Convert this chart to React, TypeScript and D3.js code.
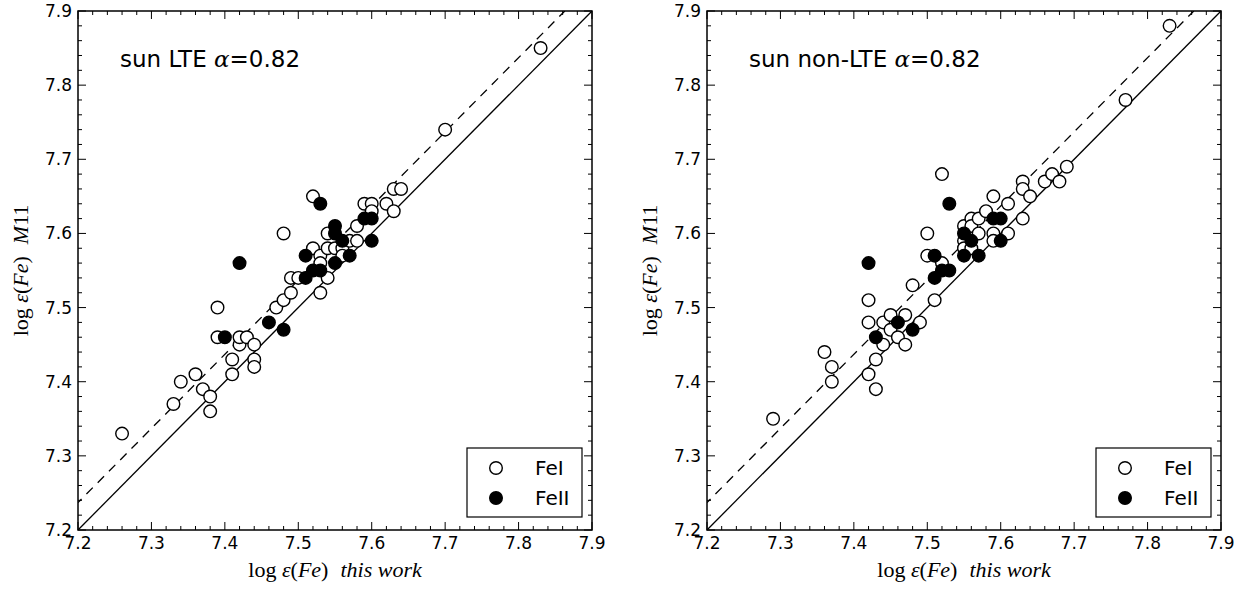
import React from "react";
import * as d3 from "d3";

// Fe abundances: [this work, M11]
const lteFeI = [
  [7.26, 7.33], [7.33, 7.37], [7.34, 7.40], [7.36, 7.41], [7.37, 7.39], [7.38, 7.38], [7.38, 7.36],
  [7.39, 7.50], [7.39, 7.46], [7.41, 7.43], [7.41, 7.41], [7.42, 7.45], [7.42, 7.46], [7.43, 7.46],
  [7.44, 7.45], [7.44, 7.43], [7.44, 7.42], [7.47, 7.50], [7.48, 7.51], [7.49, 7.52], [7.49, 7.54],
  [7.48, 7.60], [7.50, 7.54], [7.52, 7.65], [7.52, 7.58], [7.53, 7.57], [7.53, 7.56], [7.53, 7.52],
  [7.54, 7.54], [7.54, 7.58], [7.54, 7.60], [7.55, 7.58], [7.56, 7.58], [7.56, 7.57], [7.57, 7.59],
  [7.58, 7.59], [7.58, 7.61], [7.59, 7.64], [7.60, 7.64], [7.60, 7.63], [7.62, 7.64], [7.63, 7.63],
  [7.63, 7.66], [7.64, 7.66], [7.70, 7.74], [7.83, 7.85],
];
const lteFeII = [
  [7.40, 7.46], [7.42, 7.56], [7.46, 7.48], [7.48, 7.47], [7.51, 7.57], [7.51, 7.54], [7.52, 7.55],
  [7.53, 7.55], [7.53, 7.64], [7.55, 7.61], [7.55, 7.60], [7.55, 7.56], [7.56, 7.59], [7.57, 7.57],
  [7.59, 7.62], [7.60, 7.62], [7.60, 7.59],
];
const nlteFeI = [
  [7.29, 7.35], [7.36, 7.44], [7.37, 7.42], [7.37, 7.40], [7.42, 7.51], [7.42, 7.48], [7.42, 7.41],
  [7.43, 7.43], [7.43, 7.39], [7.44, 7.45], [7.44, 7.48], [7.45, 7.47], [7.45, 7.49], [7.46, 7.46],
  [7.47, 7.49], [7.47, 7.45], [7.48, 7.53], [7.49, 7.48], [7.50, 7.60], [7.50, 7.57], [7.51, 7.51],
  [7.52, 7.68], [7.52, 7.56], [7.55, 7.61], [7.55, 7.59], [7.55, 7.58], [7.56, 7.62], [7.56, 7.61],
  [7.56, 7.58], [7.57, 7.62], [7.57, 7.60], [7.58, 7.63], [7.59, 7.65], [7.59, 7.60], [7.59, 7.59],
  [7.61, 7.64], [7.61, 7.60], [7.63, 7.67], [7.63, 7.66], [7.63, 7.62], [7.64, 7.65], [7.66, 7.67],
  [7.67, 7.68], [7.68, 7.67], [7.69, 7.69], [7.77, 7.78], [7.83, 7.88],
];
const nlteFeII = [
  [7.42, 7.56], [7.43, 7.46], [7.46, 7.48], [7.48, 7.47], [7.51, 7.57], [7.51, 7.54], [7.52, 7.55],
  [7.53, 7.55], [7.53, 7.64], [7.55, 7.60], [7.55, 7.57], [7.56, 7.59], [7.57, 7.57], [7.59, 7.62],
  [7.60, 7.62], [7.60, 7.59],
];

const majorTicks = [7.2, 7.3, 7.4, 7.5, 7.6, 7.7, 7.8, 7.9];
const dashOffset = 0.037;

const W = 514, H = 519;
const x = d3.scaleLinear().domain([7.2, 7.9]).range([0, W]);
const y = d3.scaleLinear().domain([7.2, 7.9]).range([H, 0]);
const minorTicks = d3.range(7.2, 7.9001, 0.02).map(v => +v.toFixed(2));

function Panel({ left, title, feI, feII }) {
  const xDashEnd = 7.9 - dashOffset;
  return (
    <g transform={`translate(${left},11)`}>
      <defs>
        <clipPath id={`clip${left}`}><rect width={W} height={H} /></clipPath>
      </defs>
      <g clipPath={`url(#clip${left})`}>
        <line x1={x(7.2)} y1={y(7.2)} x2={x(7.9)} y2={y(7.9)} stroke="#000" strokeWidth={1.3} />
        <line x1={x(7.2)} y1={y(7.2 + dashOffset)} x2={x(xDashEnd)} y2={y(7.9)}
          stroke="#000" strokeWidth={1.3} strokeDasharray="9,7" strokeDashoffset={-12} />
        {feI.map((d, i) => (
          <circle key={"a" + i} cx={x(d[0])} cy={y(d[1])} r={6.3} fill="#fff" stroke="#000" strokeWidth={1.4} />
        ))}
        {feII.map((d, i) => (
          <circle key={"b" + i} cx={x(d[0])} cy={y(d[1])} r={6.3} fill="#000" stroke="#000" strokeWidth={1.4} />
        ))}
      </g>
      {minorTicks.map((t, i) => {
        const major = i % 5 === 0;
        const len = major ? 8 : 4;
        return (
          <g key={"t" + i} stroke="#000" strokeWidth={1}>
            <line x1={x(t)} x2={x(t)} y1={H} y2={H - len} />
            <line x1={x(t)} x2={x(t)} y1={0} y2={len} />
            <line y1={y(t)} y2={y(t)} x1={0} x2={len} />
            <line y1={y(t)} y2={y(t)} x1={W} x2={W - len} />
          </g>
        );
      })}
      <rect width={W} height={H} fill="none" stroke="#000" strokeWidth={1.5} />
      {majorTicks.map(t => (
        <text key={"xl" + t} x={x(t)} y={H + 19} textAnchor="middle" fontFamily="DejaVu Sans" fontSize={17}>{t.toFixed(1)}</text>
      ))}
      {majorTicks.map(t => (
        <text key={"yl" + t} x={-6} y={y(t) + 6} textAnchor="end" fontFamily="DejaVu Sans" fontSize={17}>{t.toFixed(1)}</text>
      ))}
      <text x={42} y={56} fontFamily="DejaVu Sans" fontSize={23}>
        {title} <tspan fontFamily="DejaVu Serif" fontStyle="italic">α</tspan>=0.82
      </text>
      {/* legend */}
      <rect x={389} y={437} width={115} height={69} fill="#fff" stroke="#000" strokeWidth={1.2} />
      <circle cx={418} cy={457} r={6.3} fill="#fff" stroke="#000" strokeWidth={1.4} />
      <circle cx={418} cy={487} r={6.3} fill="#000" stroke="#000" strokeWidth={1.4} />
      <text x={457} y={464} fontFamily="DejaVu Sans" fontSize={20}>FeI</text>
      <text x={457} y={494} fontFamily="DejaVu Sans" fontSize={20}>FeII</text>
      {/* axis labels */}
      <text x={W / 2} y={H + 47} textAnchor="middle" fontFamily="Liberation Serif" fontSize={22}>
        log <tspan fontStyle="italic">ε</tspan>(<tspan fontStyle="italic">Fe</tspan>)
        <tspan dx={12} fontStyle="italic">this work</tspan>
      </text>
      <text transform={`translate(-50,${H / 2}) rotate(-90)`} textAnchor="middle" fontFamily="Liberation Serif" fontSize={22}>
        log <tspan fontStyle="italic">ε</tspan>(<tspan fontStyle="italic">Fe</tspan>)
        <tspan dx={12} fontStyle="italic">M</tspan>11
      </text>
    </g>
  );
}

export default function App() {
  return (
    <svg width={1251} height={590} style={{ position: "absolute", left: 0, top: 0, background: "#fff" }}>
      <rect width={1251} height={590} fill="#fff" />
      <Panel left={78} title="sun LTE" feI={lteFeI} feII={lteFeII} />
      <Panel left={707} title="sun non-LTE" feI={nlteFeI} feII={nlteFeII} />
    </svg>
  );
}
